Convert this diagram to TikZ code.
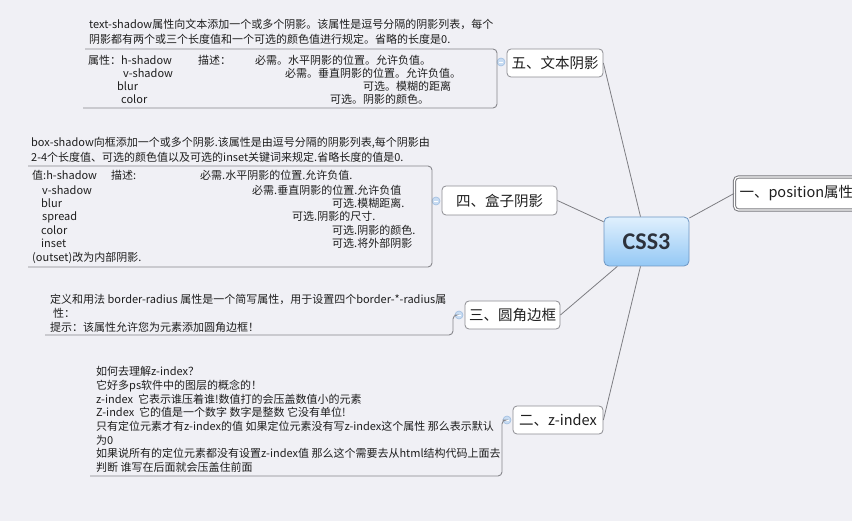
\documentclass[tikz,border=0pt]{standalone}
\usepackage{fontspec}
\setmainfont{Noto Sans CJK SC}
\newfontfamily\cssfont{Carlito}
\usetikzlibrary{shadings}
\definecolor{bgc}{RGB}{240,240,245}
\definecolor{textc}{RGB}{30,30,30}
\definecolor{framec}{RGB}{135,135,140}
\definecolor{topicb}{RGB}{140,140,145}
\definecolor{linkc}{RGB}{125,125,130}
\definecolor{markf}{RGB}{200,220,242}
\definecolor{markb}{RGB}{160,190,225}
\definecolor{csstop}{RGB}{224,240,253}
\definecolor{cssbot}{RGB}{148,200,245}
\definecolor{cssb}{RGB}{110,150,195}
\tikzset{
  notetext/.style={anchor=base west, inner sep=0pt, font=\fontsize{11}{13}\selectfont, text=textc},
  topic/.style={draw=topicb, fill=white, rounded corners=4pt, line width=0.8pt,
    font=\fontsize{14.5}{16}\selectfont, text=textc, inner sep=0pt},
  central/.style={draw=cssb, rounded corners=5pt, line width=0.8pt, top color=csstop, bottom color=cssbot,
    minimum width=85pt, minimum height=49pt, inner sep=0pt, font=\cssfont\bfseries\fontsize{24}{26}\selectfont, text={rgb,255:red,45;green,50;blue,60}},
  link/.style={draw=linkc, line width=0.8pt},
  frame/.style={draw=framec, line width=0.9pt, rounded corners=4pt},
  marker/.style={circle, draw=markb, fill=markf, minimum size=8pt, inner sep=0pt, line width=0.6pt},
}
\begin{document}
\begin{tikzpicture}[x=1pt,y=-1pt]
\useasboundingbox (0,0) rectangle (852,521);
\clip (0,0) rectangle (852,521);
\fill[bgc] (0,0) rectangle (852,521);

% central and topics
\node[central] (css) at (646.5,241.5) {CSS3};
\node[topic, minimum width=96pt, minimum height=28pt] (t5) at (555,63) {五、文本阴影};
\node[topic, minimum width=115pt, minimum height=29pt] (t4) at (499.5,200.5) {四、盒子阴影};
\node[topic, minimum width=95pt, minimum height=28pt] (t3) at (512.5,315) {三、圆角边框};
\node[topic, minimum width=90pt, minimum height=28pt] (t2) at (558,420) {二、z-index};
\node[topic, anchor=west, minimum width=135pt, minimum height=33pt, align=left, text width=125pt,
  draw={rgb,255:red,120;green,120;blue,125}, double=white, double distance=1.2pt, line width=1pt] (t1) at (734,193.5) {一、position属性};

\draw[link] (css) -- (t5.east);
\draw[link] (css) -- (t4.east);
\draw[link] (css) -- (t3.east);
\draw[link] (css) -- (t2.east);
\draw[link] (css) -- (t1.west);

% markers
\node[marker] (m5) at (501,62) {};
\node[marker] (m4) at (436,201) {};
\node[marker] (m3) at (459,315) {};
\node[marker] (m2) at (507,420) {};
\foreach \m in {m5,m4,m3,m2} \draw[white, line width=0.7pt] ([xshift=-2pt]\m.center) -- ([xshift=2pt]\m.center);

% note frames
\draw[frame] (85,49) -- (497,49) -- (497,108) -- (83,108);
\draw[frame] (28,166) -- (432,166) -- (432,267) -- (28,267);
\draw[frame] (m3.west) -| (453,335) -- (45,335);
\draw[frame] (m2.west) -| (502,476) -- (90,476);

% note 1: text-shadow
\node[notetext] (a1) at (89,29) {text-shadow属性向文本添加一个或多个阴影。该属性是逗号分隔的阴影列表，每个};
\node[notetext] (a2) at (89,44) {阴影都有两个或三个长度值和一个可选的颜色值进行规定。省略的长度是0.};
\node[notetext] (a3) at (88,65) {属性：h-shadow};
\node[notetext] (a4) at (198,65) {描述：};
\node[notetext] (a5) at (255,65) {必需。水平阴影的位置。允许负值。};
\node[notetext] (a6) at (123,78) {v-shadow};
\node[notetext] (a7) at (285,78) {必需。垂直阴影的位置。允许负值。};
\node[notetext] (a8) at (117,91) {blur};
\node[notetext] (a9) at (363,91) {可选。模糊的距离};
\node[notetext] (a10) at (121,104) {color};
\node[notetext] (a11) at (330,104) {可选。阴影的颜色。};

% note 2: box-shadow
\node[notetext] (b1) at (31,147) {box-shadow向框添加一个或多个阴影.该属性是由逗号分隔的阴影列表,每个阴影由};
\node[notetext] (b2) at (31,162) {2-4个长度值、可选的颜色值以及可选的inset关键词来规定.省略长度的值是0.};
\node[notetext] (b3) at (32,180) {值:h-shadow};
\node[notetext] (b4) at (111,180) {描述:};
\node[notetext] (b5) at (200,180) {必需.水平阴影的位置.允许负值.};
\node[notetext] (b6) at (42,195) {v-shadow};
\node[notetext] (b7) at (252,195) {必需.垂直阴影的位置.允许负值};
\node[notetext] (b8) at (41,208) {blur};
\node[notetext] (b9) at (332,208) {可选.模糊距离.};
\node[notetext] (b10) at (42,221) {spread};
\node[notetext] (b11) at (292,221) {可选.阴影的尺寸.};
\node[notetext] (b12) at (41,235) {color};
\node[notetext] (b13) at (332,235) {可选.阴影的颜色.};
\node[notetext] (b14) at (41,248) {inset};
\node[notetext] (b15) at (332,248) {可选.将外部阴影};
\node[notetext] (b16) at (32,262) {(outset)改为内部阴影.};

% note 3: border-radius
\node[notetext] (c1) at (50,304) {定义和用法 border-radius 属性是一个简写属性，用于设置四个border-*-radius属};
\node[notetext] (c2) at (53,318) {性：};
\node[notetext] (c3) at (50,332) {提示：该属性允许您为元素添加圆角边框！};

% note 4: z-index
\node[notetext] (d1) at (96,376) {如何去理解z-index？};
\node[notetext] (d2) at (96,389.6) {它好多ps软件中的图层的概念的！};
\node[notetext] (d3) at (96,403.2) {z-index\ \ 它表示谁压着谁!数值打的会压盖数值小的元素};
\node[notetext] (d4) at (96,416.8) {Z-index\ \ 它的值是一个数字 数字是整数 它没有单位!};
\node[notetext] (d5) at (96,430.4) {只有定位元素才有z-index的值 如果定位元素没有写z-index这个属性 那么表示默认};
\node[notetext] (d6) at (96,444) {为0};
\node[notetext] (d7) at (96,457.6) {如果说所有的定位元素都没有设置z-index值 那么这个需要去从html结构代码上面去};
\node[notetext] (d8) at (96,471.2) {判断 谁写在后面就会压盖住前面};
\end{tikzpicture}
\end{document}
